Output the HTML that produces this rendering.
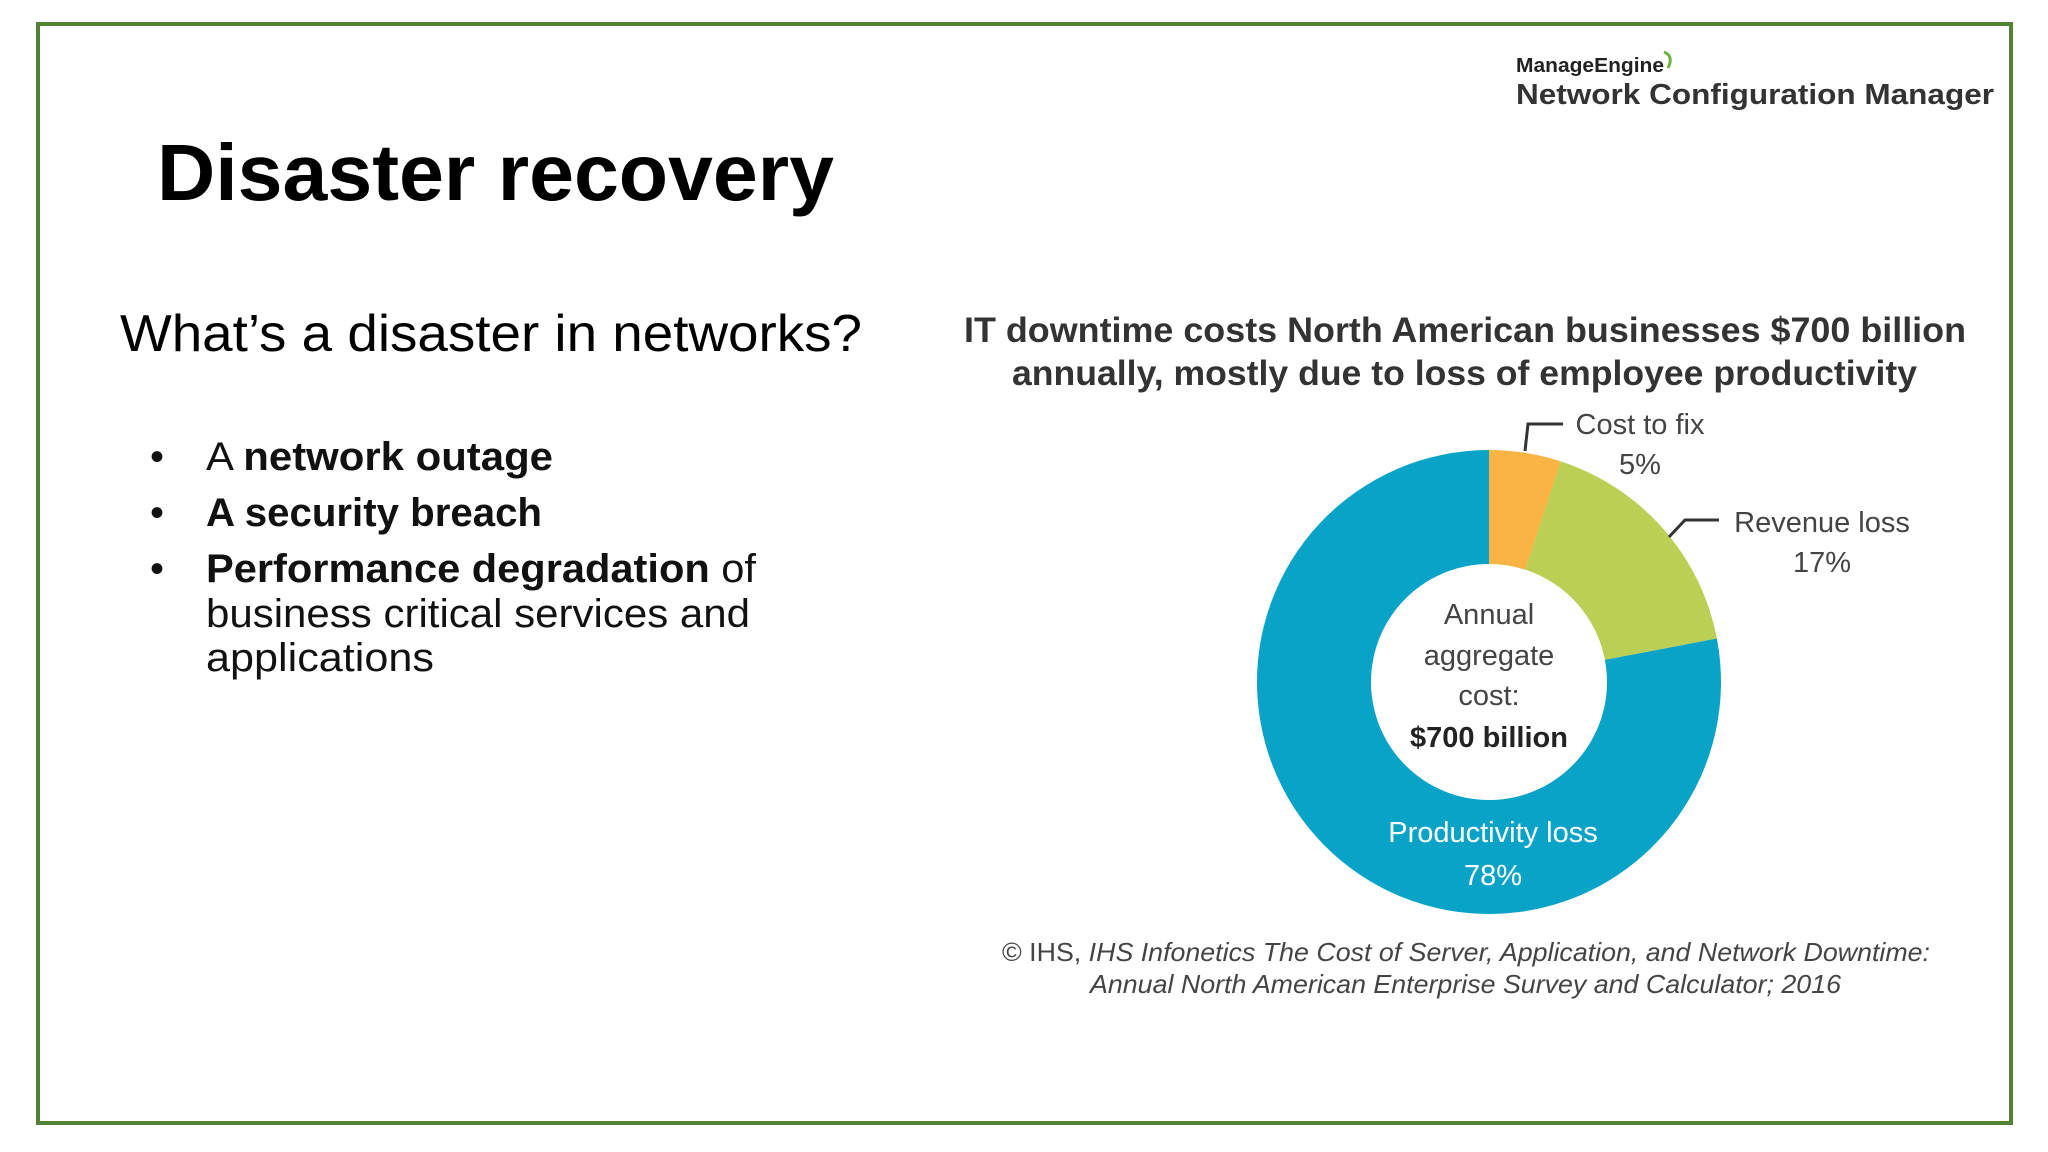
<!DOCTYPE html>
<html><head><meta charset="utf-8"><style>
html,body{margin:0;padding:0;background:#fff;}
svg{display:block;}
</style></head><body>
<svg id="slide" width="2048" height="1152" viewBox="0 0 2048 1152" xmlns="http://www.w3.org/2000/svg" font-family="Liberation Sans, sans-serif">
<rect x="38" y="24" width="1973" height="1099" fill="#fff" stroke="#548235" stroke-width="4"/>
<text x="157" y="200" font-size="80" font-weight="bold" fill="#000" textLength="677" lengthAdjust="spacingAndGlyphs">Disaster recovery</text>
<text x="120" y="351" font-size="52" fill="#000" textLength="742" lengthAdjust="spacingAndGlyphs">What’s a disaster in networks?</text>
<g font-size="40" fill="#111">
<text x="150" y="470">•</text>
<text x="206" y="470" textLength="347" lengthAdjust="spacingAndGlyphs">A <tspan font-weight="bold">network outage</tspan></text>
<text x="150" y="526">•</text>
<text x="206" y="526" font-weight="bold" textLength="336" lengthAdjust="spacingAndGlyphs">A security breach</text>
<text x="150" y="582">•</text>
<text x="206" y="582" textLength="550" lengthAdjust="spacingAndGlyphs"><tspan font-weight="bold">Performance degradation</tspan> of</text>
<text x="206" y="627" textLength="544" lengthAdjust="spacingAndGlyphs">business critical services and</text>
<text x="206" y="671" textLength="228" lengthAdjust="spacingAndGlyphs">applications</text>
</g>
<g fill="#222">
<text x="1516" y="72" font-size="20" font-weight="bold" textLength="148" lengthAdjust="spacingAndGlyphs">ManageEngine</text>
<path d="M1664 52 q10 4 4 16" fill="none" stroke="#6cb33e" stroke-width="3"/>
<text x="1516" y="104" font-size="29" font-weight="bold" fill="#333" textLength="478" lengthAdjust="spacingAndGlyphs">Network Configuration Manager</text>
</g>
<g font-size="35" font-weight="bold" fill="#333">
<text x="964" y="342" textLength="1002" lengthAdjust="spacingAndGlyphs">IT downtime costs North American businesses $700 billion</text>
<text x="1012" y="385" textLength="905" lengthAdjust="spacingAndGlyphs">annually, mostly due to loss of employee productivity</text>
</g>
<g id="donut"></g>
<g font-size="29" fill="#444" text-anchor="middle">
<polyline points="1525,451 1528,424 1563,424" fill="none" stroke="#333" stroke-width="3"/>
<text x="1640" y="434">Cost to fix</text>
<text x="1640" y="474">5%</text>
<polyline points="1669,537 1685,520 1719,520" fill="none" stroke="#333" stroke-width="3"/>
<text x="1822" y="532">Revenue loss</text>
<text x="1822" y="572">17%</text>
<text x="1489" y="624">Annual</text>
<text x="1489" y="665">aggregate</text>
<text x="1489" y="705">cost:</text>
<text x="1489" y="747" font-weight="bold" fill="#222">$700 billion</text>
<text x="1493" y="842" fill="#fff">Productivity loss</text>
<text x="1493" y="885" fill="#fff">78%</text>
</g>
<g font-size="26" fill="#444" font-style="italic">
<text x="1002" y="961" textLength="928" lengthAdjust="spacingAndGlyphs"><tspan font-style="normal">© IHS, </tspan>IHS Infonetics The Cost of Server, Application, and Network Downtime:</text>
<text x="1090" y="993" textLength="751" lengthAdjust="spacingAndGlyphs">Annual North American Enterprise Survey and Calculator; 2016</text>
</g>
</svg>
<script>
const categories = ["Cost to fix", "Revenue loss", "Productivity loss"];
const shares = [5, 17, 78];
const sliceColors = ["#f9b443", "#bccf55", "#0aa3c8"];
(function(){
  const g = document.getElementById('donut');
  const cx = 1489, cy = 682, R = 232, r = 118;
  const total = shares.reduce((a,b)=>a+b,0);
  const ang = v => v / total * 2 * Math.PI;
  const pt = (a, rad) => [cx + rad*Math.sin(a), cy - rad*Math.cos(a)];
  let a0 = 0;
  shares.forEach((v,i)=>{
    const a1 = a0 + ang(v);
    const large = (a1 - a0) > Math.PI ? 1 : 0;
    const p1 = pt(a0,R), p2 = pt(a1,R), p3 = pt(a1,r), p4 = pt(a0,r);
    const d = `M${p1[0]},${p1[1]} A${R},${R} 0 ${large} 1 ${p2[0]},${p2[1]} L${p3[0]},${p3[1]} A${r},${r} 0 ${large} 0 ${p4[0]},${p4[1]} Z`;
    const path = document.createElementNS('http://www.w3.org/2000/svg','path');
    path.setAttribute('d', d);
    path.setAttribute('fill', sliceColors[i]);
    
    
    g.appendChild(path);
    a0 = a1;
  });
})();
</script>
</body></html>
